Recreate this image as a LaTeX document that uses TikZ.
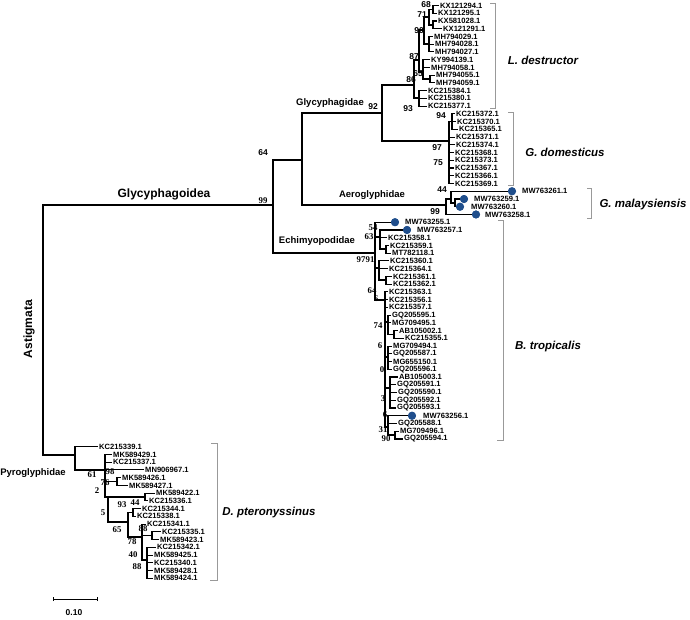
\documentclass[tikz,border=0pt]{standalone}
\usepackage{fontspec}
\setmainfont{Liberation Sans}
\newfontfamily\sernum{Liberation Serif}
\definecolor{dotblue}{RGB}{31,78,140}
\tikzset{
  br/.style={line width=1.1pt},
  thickbr/.style={line width=2.6pt},
  leaf/.style={anchor=west, inner xsep=1.5pt, inner ysep=0pt, font=\fontsize{7.6}{8}\selectfont\bfseries},
  boot/.style={inner sep=0pt, font=\fontsize{8.5}{9}\selectfont\bfseries},
  bootser/.style={inner sep=0pt, font=\sernum\fontsize{8.8}{9}\selectfont\bfseries},
  fam/.style={inner sep=0pt, font=\fontsize{9.5}{11}\selectfont\bfseries},
  big/.style={inner sep=0pt, font=\fontsize{12}{14}\selectfont\bfseries},
  spec/.style={inner sep=0pt, font=\fontsize{11.5}{13}\selectfont\bfseries\itshape},
  clade/.style={draw=gray!80, line width=0.8pt},
  dotmark/.style={circle, fill=dotblue, inner sep=0pt, minimum size=8pt},
}
\begin{document}
\begin{tikzpicture}[x=1pt,y=-1pt]
\useasboundingbox (0,0) rectangle (690,619);
% leaves
\foreach \i/\x/\t in {0/440/KX121294.1, 1/438/KX121295.1, 2/438/KX581028.1, 3/443/KX121291.1,
  4/434/MH794029.1, 5/435/MH794028.1, 6/435/MH794027.1, 7/431/KY994139.1, 8/431/MH794058.1,
  9/436/MH794055.1, 10/436/MH794059.1, 11/428/KC215384.1, 12/428/KC215380.1, 13/428/KC215377.1,
  14/456/KC215372.1, 15/457/KC215370.1, 16/459/KC215365.1, 17/456/KC215371.1, 18/456/KC215374.1,
  19/455/KC215368.1, 20/455/KC215373.1, 21/455/KC215367.1, 22/455/KC215366.1, 23/455/KC215369.1,
  24/522/MW763261.1, 25/474/MW763259.1, 26/471/MW763260.1, 27/485/MW763258.1, 28/405/MW763255.1,
  29/417/MW763257.1, 30/388/KC215358.1, 31/390/KC215359.1, 32/392/MT782118.1, 33/390/KC215360.1,
  34/389/KC215364.1, 35/393/KC215361.1, 36/393/KC215362.1, 37/389/KC215363.1, 38/389/KC215356.1,
  39/389/KC215357.1, 40/392/GQ205595.1, 41/392/MG709495.1, 42/399/AB105002.1, 43/405/KC215355.1,
  44/393/MG709494.1, 45/393/GQ205587.1, 46/393/MG655150.1, 47/393/GQ205596.1, 48/399/AB105003.1,
  49/397/GQ205591.1, 50/398/GQ205590.1, 51/397/GQ205592.1, 52/397/GQ205593.1, 53/423/MW763256.1,
  54/398/GQ205588.1, 55/400/MG709496.1, 56/404/GQ205594.1, 57/99/KC215339.1, 58/113/MK589429.1,
  59/113/KC215337.1, 60/145/MN906967.1, 61/122/MK589426.1, 62/129/MK589427.1, 63/156/MK589422.1,
  64/149/KC215336.1, 65/142/KC215344.1, 66/137/KC215338.1, 67/147/KC215341.1, 68/162/KC215335.1,
  69/160/MK589423.1, 70/157/KC215342.1, 71/154/MK589425.1, 72/154/KC215340.1, 73/154/MK589428.1,
  74/154/MK589424.1}
  \node[leaf] (L\i) at ({\x-1.5},{5.5+7.74*\i}) {\t};
% marked sequences
\foreach \i/\x in {24/512, 25/464, 26/460, 27/476, 28/395, 29/407, 53/412}
  \node[dotmark] (D\i) at (\x,{5.5+7.74*\i}) {};
% inner nodes
\coordinate (root) at (43,330);
\coordinate (glyco) at (273,205);
\coordinate (gly64) at (302,160);
\coordinate (glycy) at (382,113);
\coordinate (aero) at (446,205);
\coordinate (echi) at (375,253);
\coordinate (ldes) at (414,85);
\coordinate (gdom) at (449,141);
\coordinate (l87) at (419,60);
\coordinate (l90) at (424,30);
\coordinate (l71) at (429,17);
\coordinate (l68) at (433,9.4);
\coordinate (lkx) at (433,25);
\coordinate (lmh) at (429,44);
\coordinate (l65) at (423,72);
\coordinate (lmh2) at (430,79);
\coordinate (l93) at (419,98);
\coordinate (g94) at (452,121.6);
\coordinate (a44) at (451,199);
\coordinate (a2) at (455,203);
\coordinate (e63) at (380,237);
\coordinate (e8) at (386,249);
\coordinate (e91) at (379,268);
\coordinate (e2) at (386,280);
\coordinate (e64) at (385,300);
\coordinate (e6a) at (388,322);
\coordinate (e74) at (394,334.5);
\coordinate (e6c) at (388,357);
\coordinate (e0) at (390,388);
\coordinate (e6b) at (388,427);
\coordinate (e31) at (395,435);
\coordinate (pyro) at (75,455);
\coordinate (p1) at (105,470);
\coordinate (p2) at (117,481.5);
\coordinate (p3) at (108,497);
\coordinate (p4) at (145,497);
\coordinate (p5) at (128,522);
\coordinate (p6) at (133,512.5);
\coordinate (p7) at (142,537);
\coordinate (p8) at (152,535.7);
\coordinate (p9) at (147,560);
% branches
\foreach \a/\b in {root/glyco, root/pyro, glyco/gly64, glyco/echi, gly64/glycy, gly64/aero,
  glycy/ldes, glycy/gdom, ldes/l87, ldes/l93, l87/l90, l87/l65, l90/l71, l90/lmh, l71/l68, l71/lkx,
  l68/L0.west, l68/L1.west, lkx/L2.west, lkx/L3.west, lmh/L4.west, lmh/L5.west, lmh/L6.west,
  l65/L7.west, l65/L8.west, l65/lmh2, lmh2/L9.west, lmh2/L10.west,
  l93/L11.west, l93/L12.west, l93/L13.west,
  gdom/g94, g94/L14.west, g94/L15.west, g94/L16.west, gdom/L17.west, gdom/L18.west, gdom/L19.west,
  gdom/L20.west, gdom/L21.west, gdom/L22.west, gdom/L23.west,
  aero/a44, aero/D27, a44/D24, a44/a2, a2/D25, a2/D26,
  echi/D28, echi/e63, echi/e91, echi/e64, e63/D29, e63/L30.west, e63/e8, e8/L31.west, e8/L32.west,
  e91/L33.west, e91/L34.west, e91/e2, e2/L35.west, e2/L36.west,
  e64/L37.west, e64/L38.west, e64/L39.west, e64/e6a, e64/e6c, e64/e0, e64/e6b,
  e6a/L40.west, e6a/L41.west, e6a/e74, e74/L42.west, e74/L43.west,
  e6c/L44.west, e6c/L45.west, e6c/L46.west, e6c/L47.west,
  e0/L48.west, e0/L49.west, e0/L50.west, e0/L51.west, e0/L52.west,
  e6b/D53, e6b/L54.west, e6b/e31, e31/L55.west, e31/L56.west,
  pyro/L57.west, pyro/p1, p1/L58.west, p1/L59.west, p1/L60.west, p1/p2, p1/p3,
  p2/L61.west, p2/L62.west, p3/p4, p3/p5, p4/L63.west, p4/L64.west, p5/p6, p5/p7,
  p6/L65.west, p6/L66.west, p7/L67.west, p7/p8, p7/p9, p8/L68.west, p8/L69.west,
  p9/L70.west, p9/L71.west, p9/L72.west, p9/L73.west, p9/L74.west}
  \draw[br] (\a) |- (\b);
\draw[thickbr] (e64 |- L37.west) -- (e64 |- L52.west);
\draw[thickbr] (gdom |- L16.west) -- (gdom |- L20.west);
\draw[thickbr] (p1 |- L58.west) -- (p1 |- p3);
\draw[thickbr] (p9 |- L71.west) -- (p9 |- L74.west);
\draw[thickbr] (l87 |- l90) -- (l87 |- l65);
% dots on top
\foreach \i/\x in {24/512, 25/464, 26/460, 27/476, 28/395, 29/407, 53/412}
  \fill[dotblue] (D\i) circle (4pt);
% bootstrap values
\foreach \x/\y/\v in {426/5/68, 422/15/71, 419/31/90, 414/57/87, 418/74/65, 411/80/86, 408/109/93,
  373/107/92, 263/153/64, 441/116/94, 437/148/97, 438/163/75, 442/190/44, 435/212/99}
  \node[boot] (b\x-\y) at (\x,\y) {\v};
\foreach \x/\y/\v in {263/201/99, 373/228/54, 369/237/63, 361/260/97, 370/260/91, 372/291/64,
  376/299/6, 378/326/74, 380/346/6, 382/370/0, 383/399/3, 385/415/6, 383/430/31, 386/439/90,
  92/475/61, 110/472/98, 105/483/76, 97/491/2, 122/505/93, 135/503/44, 103/513/5, 117/530/65,
  143/529/88, 132/542/78, 133/555/40, 137/567/88}
  \node[bootser] (s\x-\y) at (\x,\y) {\v};
% group names
\node[big] (astig) at (29,329) [rotate=90] {Astigmata};
\node[big] (glyname) at (164,194) {Glycyphagoidea};
\node[fam] (glycyname) at (330,103) {Glycyphagidae};
\node[fam] (aeroname) at (372,195) {Aeroglyphidae};
\node[fam] (echiname) at (317,241) {Echimyopodidae};
\node[fam] (pyroname) at (33,473) {Pyroglyphidae};
% species brackets
\draw[clade] (490,3) -| (495,108) -- (490,108);
\draw[clade] (508,112) -| (513,185) -- (508,185);
\draw[clade] (587,188) -| (591,218) -- (587,218);
\draw[clade] (498,220) -| (503,440) -- (497,440);
\draw[clade] (211,443) -| (217,580) -- (210,580);
\node[spec] (ldesname) at (543,60) {L. destructor};
\node[spec] (gdomname) at (565,152) {G. domesticus};
\node[spec] (gmalname) at (643,205) {G. malaysiensis};
\node[spec] (btroname) at (548,347) {B. tropicalis};
\node[spec] (dptename) at (269,513) {D. pteronyssinus};
% scale
\coordinate (sb1) at (53,599);
\coordinate (sb2) at (97,599);
\draw[line width=0.8pt] (sb1) -- (sb2);
\draw[line width=0.8pt] ([yshift=-2pt]sb1) -- ([yshift=2pt]sb1);
\draw[line width=0.8pt] ([yshift=-2pt]sb2) -- ([yshift=2pt]sb2);
\node[boot] (sbname) at (74,613) {0.10};
\end{tikzpicture}
\end{document}
